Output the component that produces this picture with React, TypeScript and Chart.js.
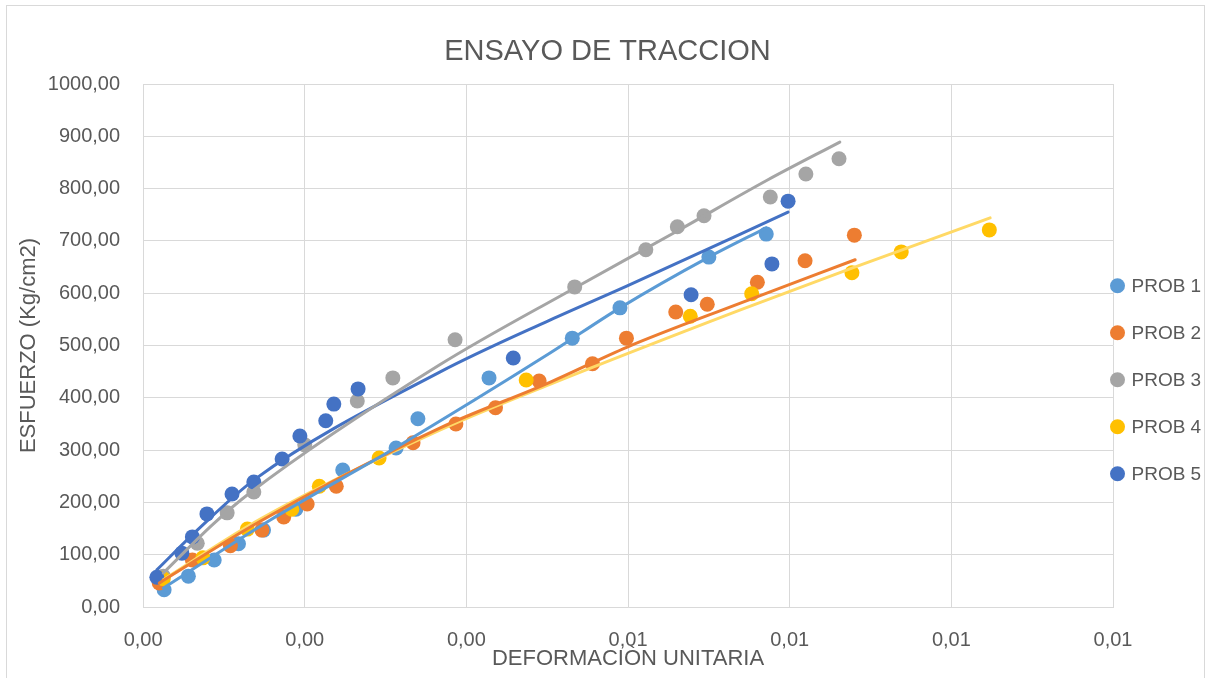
import React, { useEffect, useRef } from "react";
import { Chart, registerables } from "chart.js";

Chart.register(...registerables);

const chartTitle = "ENSAYO DE TRACCION";
const xAxisTitle = "DEFORMACIÒN UNITARIA";
const yAxisTitle = "ESFUERZO (Kg/cm2)";
const seriesNames = ["PROB 1", "PROB 2", "PROB 3", "PROB 4", "PROB 5"];
const seriesColors = ["#5B9BD5", "#ED7D31", "#A5A5A5", "#FFC000", "#4472C4"];
const trendColors = ["#5B9BD5", "#ED7D31", "#A5A5A5", "#FFD966", "#4472C4"];

const xTickLabels = ["0,00", "0,00", "0,00", "0,01", "0,01", "0,01", "0,01"];
const yTickLabels = ["0,00", "100,00", "200,00", "300,00", "400,00", "500,00", "600,00", "700,00", "800,00", "900,00", "1000,00"];

// measured points
const p1X = [0.00026, 0.00056, 0.00088, 0.00118, 0.00149, 0.00189, 0.00247, 0.00313, 0.0034, 0.00428, 0.00531, 0.0059, 0.007, 0.00771];
const p1Y = [33, 59, 90, 121, 147, 187, 262, 304, 360, 438, 514, 572, 669, 713];

const p2X = [0.0002, 0.00061, 0.00108, 0.00147, 0.00174, 0.00203, 0.00239, 0.00334, 0.00387, 0.00436, 0.0049, 0.00556, 0.00598, 0.00659, 0.00698, 0.0076, 0.00819, 0.0088];
const p2Y = [46, 90, 117, 147, 172, 197, 231, 314, 350, 381, 432, 465, 514, 564, 579, 621, 662, 711];

const p3X = [0.00025, 0.00067, 0.00104, 0.00137, 0.002, 0.00265, 0.00309, 0.00386, 0.00534, 0.00622, 0.00661, 0.00694, 0.00776, 0.0082, 0.00861];
const p3Y = [59, 122, 180, 220, 310, 394, 438, 511, 612, 683, 727, 748, 784, 828, 857];

const p4X = [0.00025, 0.00074, 0.00129, 0.00184, 0.00218, 0.00292, 0.00474, 0.00677, 0.00753, 0.00877, 0.00938, 0.01047];
const p4Y = [54, 94, 149, 187, 231, 285, 434, 556, 599, 639, 679, 721];

const p5X = [0.00017, 0.00048, 0.00061, 0.00079, 0.0011, 0.00137, 0.00172, 0.00194, 0.00226, 0.00236, 0.00266, 0.00458, 0.00678, 0.00778, 0.00798];
const p5Y = [57, 103, 134, 178, 216, 239, 283, 327, 356, 388, 417, 476, 597, 656, 776];

// trendlines
const t1X = [0.00025, 0.00157, 0.00314, 0.00504, 0.0059, 0.007, 0.00771];
const t1Y = [36, 166, 306, 486, 572, 669, 725];
const t2X = [0.0002, 0.00145, 0.00367, 0.00504, 0.00599, 0.00739, 0.00881];
const t2Y = [46, 164, 342, 430, 497, 581, 664];
const t3X = [0.00025, 0.00087, 0.00132, 0.00367, 0.00534, 0.00661, 0.00772, 0.00862];
const t3Y = [65, 159, 218, 463, 610, 719, 816, 889];
const t4X = [0.00025, 0.00145, 0.00367, 0.00504, 0.00739, 0.00877, 0.01048];
const t4Y = [52, 168, 338, 426, 568, 648, 744];
const t5X = [0.00017, 0.00067, 0.00139, 0.00367, 0.00504, 0.00599, 0.00798];
const t5Y = [71, 147, 245, 449, 549, 614, 755];

const pointsX = [p1X, p2X, p3X, p4X, p5X];
const pointsY = [p1Y, p2Y, p3Y, p4Y, p5Y];
const trendX = [t1X, t2X, t3X, t4X, t5X];
const trendY = [t1Y, t2Y, t3Y, t4Y, t5Y];

const FONT = "'Liberation Sans', Arial, sans-serif";
const TEXT = "#595959";
const GRID = "#D9D9D9";

const zip = (xs: number[], ys: number[]) => xs.map((x, i) => ({ x, y: ys[i] }));

const sideLegend = {
  id: "sideLegend",
  afterDraw(chart: any) {
    const { ctx, chartArea } = chart;
    ctx.save();
    seriesNames.forEach((name, i) => {
      const y = chartArea.top + 201.7 + i * 47;
      ctx.fillStyle = seriesColors[i];
      ctx.beginPath();
      ctx.arc(chartArea.right + 4.5, y, 7.5, 0, Math.PI * 2);
      ctx.fill();
      ctx.fillStyle = TEXT;
      ctx.font = `19px ${FONT}`;
      ctx.textAlign = "left";
      ctx.textBaseline = "middle";
      ctx.fillText(name, chartArea.right + 18.5, y + 1);
    });
    ctx.restore();
  },
};

export default function App() {
  const ref = useRef<HTMLCanvasElement | null>(null);

  useEffect(() => {
    if (!ref.current) return;
    const datasets: any[] = [];
    trendX.forEach((xs, i) => {
      datasets.push({
        label: seriesNames[i] + " trend",
        data: zip(xs, trendY[i]),
        showLine: true,
        borderColor: trendColors[i],
        backgroundColor: trendColors[i],
        borderWidth: 3,
        borderCapStyle: "round",
        pointRadius: 0,
        cubicInterpolationMode: "monotone",
        order: i,
      });
    });
    pointsX.forEach((xs, i) => {
      datasets.push({
        label: seriesNames[i],
        data: zip(xs, pointsY[i]),
        showLine: false,
        backgroundColor: seriesColors[i],
        borderColor: seriesColors[i],
        borderWidth: 0,
        pointRadius: 7.5,
        order: 10 + (4 - i),
      });
    });

    const chart = new Chart(ref.current, {
      type: "scatter",
      data: { datasets },
      plugins: [sideLegend],
      options: {
        responsive: false,
        animation: false,
        layout: { padding: { left: 6, right: 0, top: 0, bottom: 0 } },
        plugins: {
          legend: { display: false },
          tooltip: { enabled: false },
          title: {
            display: true,
            text: chartTitle,
            color: TEXT,
            font: { family: FONT, size: 29, weight: "normal", lineHeight: 1.2 },
            padding: { top: 34.6, bottom: 14.6 },
          },
        },
        scales: {
          x: {
            type: "linear",
            min: 0,
            max: 0.012,
            grid: { color: GRID, lineWidth: 1, drawTicks: false },
            border: { color: GRID, width: 1 },
            ticks: {
              stepSize: 0.002,
              padding: 21,
              color: TEXT,
              maxRotation: 0,
              autoSkip: false,
              font: { family: FONT, size: 20, lineHeight: 1.2 },
              callback: (_v: any, i: number) => xTickLabels[i] ?? "",
            },
            title: {
              display: true,
              text: xAxisTitle,
              color: TEXT,
              font: { family: FONT, size: 22, lineHeight: 1.2 },
              padding: { top: -27.2, bottom: 5.8 },
            },
          },
          y: {
            type: "linear",
            position: "left",
            min: 0,
            max: 1000,
            grid: { color: GRID, lineWidth: 1, drawTicks: false },
            border: { color: GRID, width: 1 },
            ticks: {
              stepSize: 100,
              padding: 23,
              color: TEXT,
              font: { family: FONT, size: 20, lineHeight: 1.2 },
              callback: (_v: any, i: number) => yTickLabels[i] ?? "",
            },
            title: {
              display: true,
              text: yAxisTitle,
              color: TEXT,
              font: { family: FONT, size: 22, lineHeight: 1.2 },
              padding: { top: 9.8, bottom: -17.4 },
            },
          },
          legendSpace: {
            type: "linear",
            position: "right",
            display: true,
            min: 0,
            max: 1,
            grid: { display: false, drawTicks: false },
            border: { display: false },
            ticks: { display: false },
            title: {
              display: true,
              text: "",
              font: { size: 10, lineHeight: 1 },
              padding: { top: 0, bottom: 86 },
            },
          },
        },
      },
    } as any);
    return () => chart.destroy();
  }, []);

  return (
    <div style={{ position: "fixed", left: 0, top: 0, width: 1209, height: 678, background: "#fff", overflow: "hidden" }}>
      <div
        style={{
          position: "absolute",
          left: 6,
          top: 5,
          width: 1199,
          height: 720,
          border: `1px solid ${GRID}`,
          boxSizing: "border-box",
        }}
      />
      <canvas ref={ref} width={1209} height={678} style={{ position: "absolute", left: 0, top: 0 }} />
    </div>
  );
}
